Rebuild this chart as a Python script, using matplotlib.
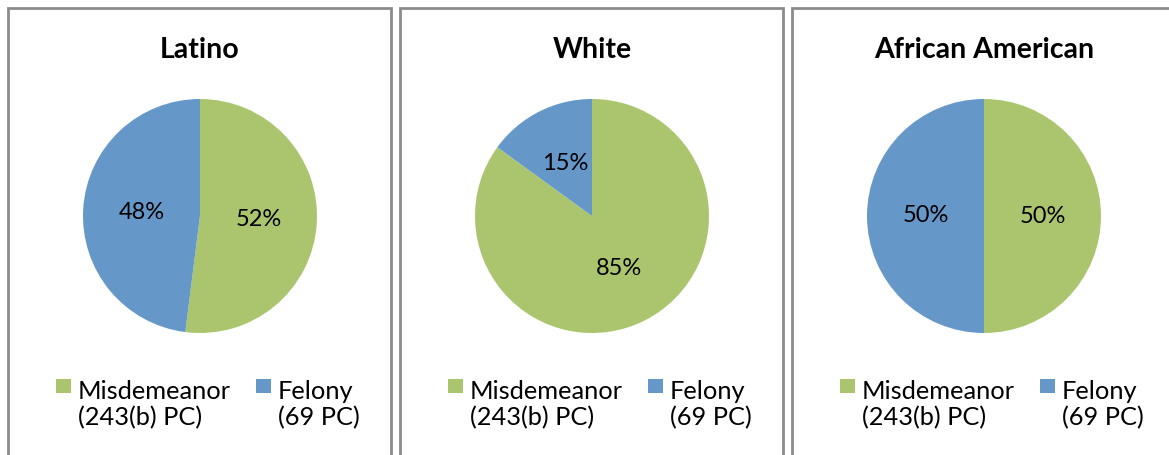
import matplotlib.pyplot as plt
from matplotlib.patches import Rectangle

plt.rcParams['font.family'] = ['Lato', 'DejaVu Sans']

# Daten
groups = ['Latino', 'White', 'African American']
misdemeanor = [52, 85, 50]
felony = [48, 15, 50]
labels = ['Misdemeanor\n(243(b) PC)', 'Felony\n(69 PC)']
colors = ['#abc56e', '#6597c9']

W, H = 1169, 455
fig = plt.figure(figsize=(W / 100, H / 100), dpi=100)

panel_left = [8, 400, 792]
panel_w = 383
radius = 117
legend_dx = [48, 248]   # Abstand Legendenquadrat vom Rahmen

for i, g in enumerate(groups):
    x0 = panel_left[i]
    cx = x0 + 192
    cy = 216
    # Rahmen
    fig.patches.append(Rectangle((x0 / W, -0.1), panel_w / W, (H - 8) / H + 0.1,
                                 transform=fig.transFigure, fill=False,
                                 edgecolor='#8c8c8c', linewidth=2))
    ax = fig.add_axes([(cx - radius) / W, (H - cy - radius) / H,
                       2 * radius / W, 2 * radius / H])
    wedges, texts = ax.pie([misdemeanor[i], felony[i]], colors=colors,
                           startangle=90, counterclock=False,
                           labels=[f'{misdemeanor[i]}%', f'{felony[i]}%'],
                           labeldistance=0.5,
                           textprops={'fontsize': 17, 'ha': 'center', 'va': 'center'})
    ax.set_xlim(-1, 1)
    ax.set_ylim(-1, 1)
    ax.set_aspect('equal')
    fig.text(cx / W, (H - 58) / H, g, ha='center', va='baseline',
             fontsize=20.5, fontweight='bold')
    # Legende (Quadrat an der ersten Zeile ausgerichtet)
    for k, lab in enumerate(labels):
        lx = x0 + legend_dx[k]
        fig.patches.append(Rectangle((lx / W, (H - 393) / H), 15 / W, 14 / H,
                                     transform=fig.transFigure,
                                     facecolor=colors[k], edgecolor='none'))
        fig.text((lx + 22) / W, (H - 425) / H, lab, ha='left', va='baseline',
                 fontsize=18.3, linespacing=1.15)

plt.savefig('out.png', dpi=100)
